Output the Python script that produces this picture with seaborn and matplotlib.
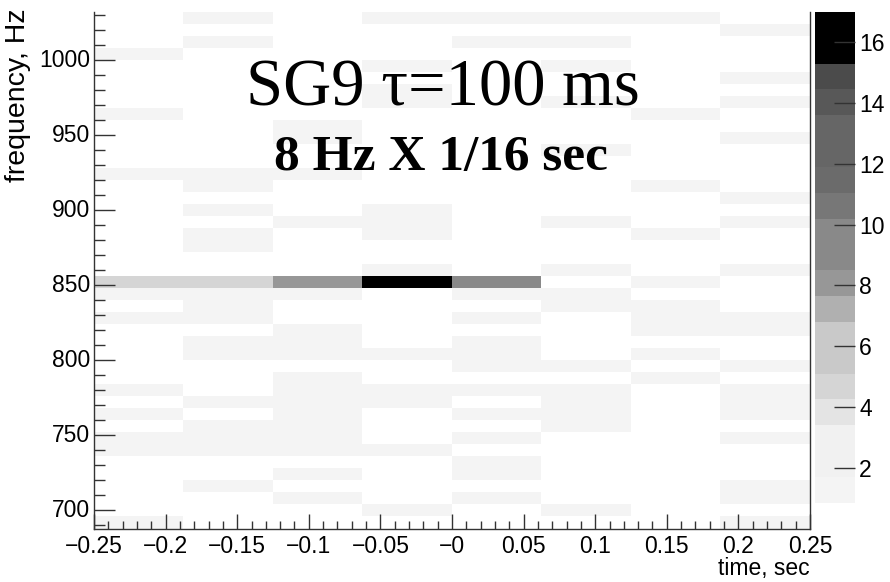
# %% libraries
# ------------

import matplotlib
matplotlib.use('Agg')
import matplotlib.pyplot as plt
from matplotlib.colors import ListedColormap, BoundaryNorm
import numpy as np
import seaborn as sns


# %% data
# -------

# time bins, 1/16 sec
time_edges = [-0.25, -0.1875, -0.125, -0.0625, 0.0, 0.0625, 0.125, 0.1875, 0.25]

# frequency bins, 8 Hz, listed from the top row (1024-1032) down to 688-696
freq_top = 1032
freq_step = 8

counts = [
    [0, 1, 0, 1, 1, 1, 1, 0],   # 1024
    [0, 0, 0, 0, 0, 0, 0, 1],   # 1016
    [0, 1, 0, 0, 1, 1, 0, 0],   # 1008
    [1, 0, 0, 0, 0, 0, 0, 0],   # 1000
    [0, 0, 0, 1, 0, 1, 0, 0],   # 992
    [0, 0, 0, 0, 0, 0, 0, 1],   # 984
    [0, 0, 0, 1, 0, 0, 0, 0],   # 976
    [0, 0, 0, 1, 0, 1, 0, 1],   # 968
    [1, 0, 0, 0, 0, 0, 1, 0],   # 960
    [0, 0, 1, 0, 0, 0, 0, 0],   # 952
    [0, 0, 1, 0, 0, 0, 0, 1],   # 944
    [0, 0, 0, 0, 0, 1, 0, 0],   # 936
    [0, 0, 0, 0, 0, 0, 0, 0],   # 928
    [1, 1, 1, 0, 0, 0, 0, 0],   # 920
    [0, 1, 0, 0, 0, 0, 1, 0],   # 912
    [0, 0, 0, 0, 0, 0, 0, 1],   # 904
    [0, 1, 0, 1, 0, 0, 0, 0],   # 896
    [0, 0, 1, 1, 0, 1, 0, 1],   # 888
    [0, 1, 0, 1, 0, 0, 1, 0],   # 880
    [0, 1, 0, 0, 0, 0, 0, 0],   # 872
    [0, 0, 0, 0, 0, 0, 0, 0],   # 864
    [0, 0, 0, 1, 0, 1, 0, 1],   # 856
    [5, 5, 8, 17, 9, 0, 1, 0],  # 848
    [1, 1, 1, 0, 1, 1, 0, 0],   # 840
    [0, 1, 0, 0, 0, 1, 1, 0],   # 832
    [1, 1, 0, 0, 1, 0, 1, 1],   # 824
    [0, 0, 1, 0, 0, 0, 1, 1],   # 816
    [0, 1, 1, 0, 1, 0, 0, 0],   # 808
    [0, 1, 1, 1, 1, 0, 1, 0],   # 800
    [0, 0, 0, 0, 1, 1, 0, 1],   # 792
    [0, 0, 1, 0, 0, 0, 1, 0],   # 784
    [1, 0, 1, 1, 1, 1, 0, 1],   # 776
    [0, 1, 1, 1, 0, 1, 0, 1],   # 768
    [1, 0, 1, 0, 1, 1, 0, 1],   # 760
    [0, 1, 1, 0, 0, 1, 0, 0],   # 752
    [1, 1, 1, 0, 1, 0, 0, 1],   # 744
    [1, 1, 1, 1, 0, 0, 0, 0],   # 736
    [0, 0, 0, 0, 1, 0, 0, 0],   # 728
    [0, 0, 1, 0, 1, 0, 0, 0],   # 720
    [0, 1, 0, 0, 0, 0, 0, 1],   # 712
    [0, 0, 1, 0, 1, 0, 0, 1],   # 704
    [0, 0, 0, 1, 0, 1, 0, 0],   # 696
    [1, 0, 0, 0, 0, 0, 0, 1],   # 688
]

x_ticks = [-0.25, -0.2, -0.15, -0.1, -0.05, 0.0, 0.05, 0.1, 0.15, 0.2, 0.25]
x_ticklabels = ['\u22120.25', '\u22120.2', '\u22120.15', '\u22120.1', '\u22120.05',
                '\u22120', '0.05', '0.1', '0.15', '0.2', '0.25']
y_ticks = [700, 750, 800, 850, 900, 950, 1000]
z_ticks = [2, 4, 6, 8, 10, 12, 14, 16]
z_max = 17

# ROOT-like grey palette, 20 contour levels
grey_levels = ['#ffffff', '#f4f4f4', '#f1f1f1', '#f1f1f1', '#e4e4e4',
               '#d5d5d5', '#c9c9c9', '#c9c9c9', '#b0b0b0', '#979797',
               '#898989', '#898989', '#777777', '#6b6b6b', '#666666',
               '#666666', '#585858', '#4b4b4b', '#000000', '#000000']


# %% helpers
# ----------

n_rows = len(counts)
dt = time_edges[1] - time_edges[0]


def tpos(t):
    return (t - time_edges[0]) / dt


def fpos(f):
    return (freq_top - f) / freq_step


# %% figure
# ---------

plt.rcParams['font.family'] = ['Liberation Sans', 'DejaVu Sans']

fig = plt.figure(figsize=(8.9, 5.82), dpi=100)
ax = fig.add_axes([94 / 890, 1 - 528.5 / 582, 716 / 890, 516.5 / 582])
cax = fig.add_axes([815 / 890, 1 - 528.5 / 582, 40 / 890, 516.5 / 582])

cmap = ListedColormap(grey_levels)
norm = BoundaryNorm(np.linspace(0, z_max, len(grey_levels) + 1), len(grey_levels))

sns.heatmap(np.array(counts, dtype=float), ax=ax, cbar_ax=cax, cmap=cmap,
            norm=norm, cbar_kws={'ticks': z_ticks})

ax.set_xlim(0, len(time_edges) - 1)
ax.set_ylim(n_rows, 0)

# frame
for side in ['left', 'bottom', 'right']:
    ax.spines[side].set_visible(True)
    ax.spines[side].set_color('#333333')
    ax.spines[side].set_linewidth(1.0)
ax.spines['top'].set_visible(False)

# x axis
ax.set_xticks([tpos(t) for t in x_ticks])
ax.set_xticklabels(x_ticklabels, rotation=0, fontsize=16.5)
ax.set_xticks([tpos(t) for t in np.arange(-0.25, 0.2501, 0.01)], minor=True)
ax.tick_params(axis='x', which='major', direction='in', length=11, width=1,
               color='#333333', pad=5)
ax.tick_params(axis='x', which='minor', direction='in', length=6, width=1,
               color='#333333')

# y axis
ax.set_yticks([fpos(f) for f in y_ticks])
ax.set_yticklabels([str(f) for f in y_ticks], rotation=0, fontsize=16.5)
ax.set_yticks([fpos(f) for f in range(690, 1031, 10)], minor=True)
ax.tick_params(axis='y', which='major', direction='in', length=15, width=1,
               color='#333333', pad=3)
ax.tick_params(axis='y', which='minor', direction='in', length=8, width=1,
               color='#333333')

ax.set_xlabel('')
ax.set_ylabel('')
fig.text(810 / 890, 1 - 568 / 582, 'time, sec', ha='right', va='center',
         fontsize=16.5)
fig.text(18 / 890, 1 - 8 / 582, 'frequency, Hz', ha='center', va='top',
         rotation=90, fontsize=20.5)

# colour bar
cbar = ax.collections[0].colorbar
cbar.outline.set_visible(False)
cax.minorticks_off()
cax.tick_params(direction='in', length=15, width=1, color='#333333',
                labelsize=16.5, pad=3)

# titles
fig.text(443 / 890, 1 - 105 / 582, 'SG9 \u03c4=100 ms', ha='center',
         va='baseline', fontsize=48, family='Liberation Serif')
fig.text(441 / 890, 1 - 170 / 582, '8 Hz X 1/16 sec', ha='center',
         va='baseline', fontsize=37, fontweight='bold', family='Liberation Serif')

fig.savefig('out.png', dpi=100)
